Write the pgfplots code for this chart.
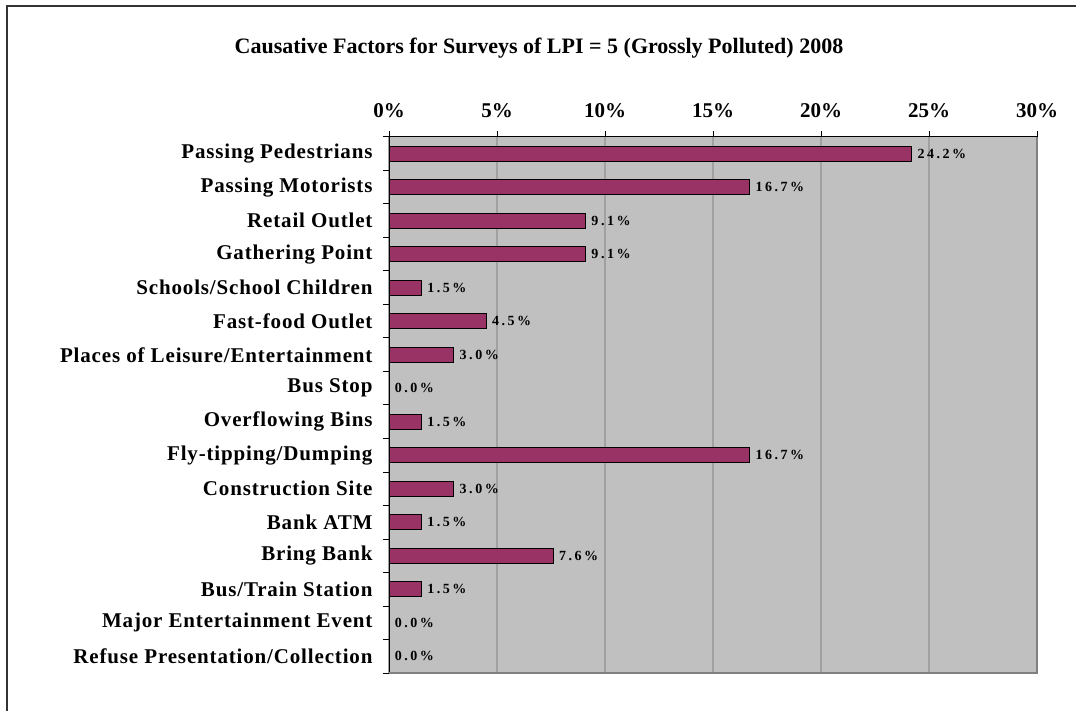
\documentclass[border=0pt]{standalone}
\usepackage{pgfplots}
\pgfplotsset{compat=1.18}
\usepackage{fontspec}
\setmainfont{Liberation Serif}

\definecolor{plotbg}{HTML}{C0C0C0}
\definecolor{barcol}{HTML}{993366}
\definecolor{gridcol}{HTML}{A0A0A0}
\definecolor{edgegray}{HTML}{808080}
\definecolor{framecol}{HTML}{333333}

\newcommand{\titlefont}{\fontsize{22}{26}\selectfont\bfseries}
\newcommand{\catfont}{\fontsize{21}{24}\selectfont\bfseries\addfontfeature{LetterSpace=4}}
\newcommand{\tickfont}{\fontsize{21}{24}\selectfont\bfseries}
\newcommand{\datafont}{\fontsize{14}{16}\selectfont\bfseries\addfontfeature{LetterSpace=18}}

\begin{document}
\begin{tikzpicture}
  \useasboundingbox (0,0) rectangle (1076pt,711pt);
  \draw[framecol, line width=1.5pt] (7pt,0) -- (7pt,705pt) -- (1076pt,705pt);
  \node[font=\titlefont] at (539pt,663pt) {Causative Factors for Surveys of LPI = 5 (Grossly Polluted) 2008};

  \begin{axis}[
    at={(389pt,38pt)}, anchor=south west,
    scale only axis, width=648pt, height=536pt,
    xbar, bar width=15pt,
    xmin=0, xmax=30, ymin=-0.5, ymax=15.5, y dir=reverse,
    axis x line*=top, axis y line*=left,
    axis line style={black, line width=1pt},
    axis background/.style={fill=plotbg},
    tick align=outside, major tick length=6pt,
    tick style={black, line width=1pt},
    xtick={0,5,...,30},
    xticklabel={\pgfmathprintnumber{\tick}\%},
    /pgf/number format/assume math mode=true,
    xticklabel style={font=\tickfont, yshift=10pt},
    xmajorgrids, grid style={gridcol, line width=1.3pt},
    ytick={-0.5,0.5,...,15.5}, yticklabels={},
    extra y ticks={0,...,15},
    extra y tick labels={Passing Pedestrians, Passing Motorists, Retail Outlet, Gathering Point,
      Schools/School Children, Fast-food Outlet, Places of Leisure/Entertainment, Bus Stop,
      Overflowing Bins, Fly-tipping/Dumping, Construction Site, Bank ATM, Bring Bank,
      Bus/Train Station, Major Entertainment Event, Refuse Presentation/Collection},
    extra y tick style={major tick length=0pt, yticklabel style={font=\catfont, anchor=east, xshift=-13pt}},
    point meta=x,
    nodes near coords={\pgfmathprintnumber[fixed,fixed zerofill,precision=1]{\pgfplotspointmeta}\%},
    nodes near coords style={font=\datafont, black, anchor=west, xshift=2pt},
    after end axis/.code={
      \draw[edgegray, line width=2pt] (axis cs:0,15.5) -- (axis cs:30,15.5) -- (axis cs:30,-0.5);
    },
  ]
  \addplot[fill=barcol, draw=black, line width=1.2pt] coordinates {
    (24.2,0) (16.7,1) (9.1,2) (9.1,3) (1.5,4) (4.5,5) (3.0,6) (0.0,7)
    (1.5,8) (16.7,9) (3.0,10) (1.5,11) (7.6,12) (1.5,13) (0.0,14) (0.0,15)
  };
  \end{axis}
\end{tikzpicture}
\end{document}
